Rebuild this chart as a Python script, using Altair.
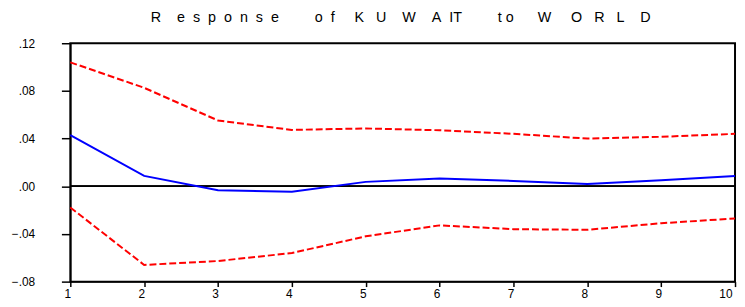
import altair as alt
import pandas as pd

steps = [1, 2, 3, 4, 5, 6, 7, 8, 9, 10]
response = [0.043, 0.0087, -0.0033, -0.0046, 0.0037, 0.0066, 0.0045, 0.002, 0.005, 0.0087]
upper = [0.104, 0.0826, 0.0552, 0.0473, 0.0485, 0.047, 0.044, 0.040, 0.0415, 0.044]
lower = [-0.0178, -0.066, -0.0627, -0.056, -0.042, -0.0328, -0.036, -0.0365, -0.031, -0.027]
y_ticks = [-0.08, -0.04, 0.0, 0.04, 0.08, 0.12]

df = pd.DataFrame({"step": steps, "response": response, "upper": upper, "lower": lower})

# Title letters with the wide, uneven letter spacing of the original (gaps in spaces)
title_chars = list("ResponseofKUWAITtoWORLD")
title_gaps = [4, 2, 2, 2, 2, 2, 2, 9, 2, 5, 3, 4, 4, 2, 0, 9, 1, 6, 5, 3, 3, 4, 0]
NB = "\u00a0"
title_text = "".join(c + NB * g for c, g in zip(title_chars, title_gaps))

FONT = "Liberation Sans"

x_axis = alt.Axis(values=steps, format="d", title=None, grid=False,
                  tickSize=5, tickWidth=1.5, tickColor="black",
                  domainColor="black", domainWidth=1.5,
                  labelFont=FONT, labelFontSize=12, labelColor="black",
                  labelPadding=2, labelFlush=False, labelOverlap=False,
                  labelOffset=-3,
                  labelAlign=alt.condition("datum.value == 10", alt.value("right"), alt.value("center")))
y_axis = alt.Axis(values=y_ticks, title=None, grid=False,
                  labelExpr="replace(format(datum.value, '.2f'), '0.', '.')",
                  tickSize=9, tickWidth=1.5, tickColor="black",
                  domainColor="black", domainWidth=1.5,
                  labelFont=FONT, labelFontSize=12, labelColor="black",
                  labelPadding=27, labelFlush=False, labelOverlap=False)

x_enc = alt.X("step:Q", scale=alt.Scale(domain=[1, 10], nice=False), axis=x_axis)
y_scale = alt.Scale(domain=[-0.08, 0.12], nice=False, zero=False)

base = alt.Chart(df)

zero = base.mark_rule(color="black", strokeWidth=1).encode(y=alt.datum(0, scale=y_scale))
upper_line = base.mark_line(color="#ff0000", strokeWidth=2, strokeDash=[7, 3]).encode(
    x=x_enc, y=alt.Y("upper:Q", scale=y_scale, axis=y_axis))
lower_line = base.mark_line(color="#ff0000", strokeWidth=2, strokeDash=[7, 3]).encode(
    x=x_enc, y=alt.Y("lower:Q", scale=y_scale, axis=y_axis))
resp_line = base.mark_line(color="#0000ff", strokeWidth=2).encode(
    x=x_enc, y=alt.Y("response:Q", scale=y_scale, axis=y_axis))

chart = alt.layer(zero, upper_line, lower_line, resp_line).properties(
    width=672, height=241,
    autosize=alt.AutoSizeParams(type="none"),
    padding={"left": 63, "top": 34, "right": 2, "bottom": 22},
    title=alt.TitleParams(text=title_text, font=FONT, fontSize=14.5, fontWeight="normal",
                          color="black", anchor="middle", offset=12, dx=-2),
    background="white",
).configure_view(stroke="black", strokeWidth=2)

chart.save("out.html", embed_options={"renderer": "svg", "actions": False})
